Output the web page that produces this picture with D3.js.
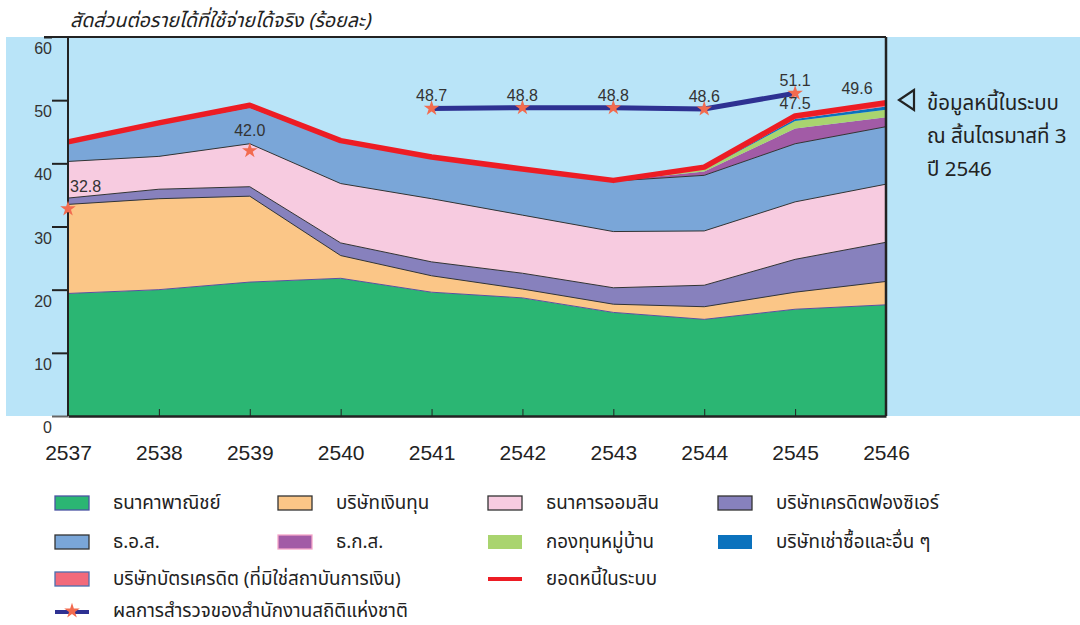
<!DOCTYPE html>
<html><head><meta charset="utf-8">
<script src="https://cdn.jsdelivr.net/npm/d3@7"></script>
<style>
html,body{margin:0;padding:0;background:#fff;}
svg{display:block;font-family:"Noto Sans Thai","Liberation Sans",Arial,"Noto Sans",sans-serif;}
</style></head>
<body>
<svg id="c" width="1080" height="625"></svg>
<script>
// ---------------- data ----------------
const years = ["2537","2538","2539","2540","2541","2542","2543","2544","2545","2546"];
const commercialBanks = [19.4, 20.0, 21.2, 21.8, 19.6, 18.7, 16.4, 15.3, 16.9, 17.6];
const financeCos      = [14.1, 14.4, 13.6, 3.6, 2.6, 1.4, 1.3, 2.0, 2.7, 3.7];
const creditFoncier   = [1.0, 1.5, 1.5, 2.0, 2.2, 2.5, 2.6, 3.4, 5.2, 6.2];
const gsb             = [5.8, 5.2, 6.8, 9.4, 10.0, 9.2, 8.9, 8.6, 9.1, 9.2];
const ghb             = [2.9, 5.1, 5.8, 6.6, 6.4, 7.1, 8.0, 8.8, 9.2, 9.1];
const baac            = [0, 0, 0, 0, 0, 0, 0, 0.6, 2.4, 1.5];
const villageFund     = [0, 0, 0, 0, 0, 0, 0, 0.3, 1.2, 1.2];
const hirePurchase    = [0, 0, 0, 0, 0, 0, 0, 0, 0.3, 0.5];
const creditCard      = [0.2, 0.2, 0.3, 0.2, 0.2, 0.2, 0.1, 0.4, 0.5, 0.6];
const surveyYears     = ["2541","2542","2543","2544","2545"];
const surveyValues    = [48.7, 48.8, 48.8, 48.6, 51.1];
const surveySingleYears  = ["2537","2539"];
const surveySingleValues = [32.8, 42.0];
const yTicks = [0, 10, 20, 30, 40, 50, 60];

const seriesNames = ["ธนาคาพาณิชย์","บริษัทเงินทุน","บริษัทเครดิตฟองซิเอร์","ธนาคารออมสิน","ธ.อ.ส.","ธ.ก.ส.","กองทุนหมู่บ้าน","บริษัทเช่าซื้อและอื่น ๆ","บริษัทบัตรเครดิต (ที่มิใช่สถาบันการเงิน)"];
const seriesData = [commercialBanks, financeCos, creditFoncier, gsb, ghb, baac, villageFund, hirePurchase, creditCard];
const totalName = "ยอดหนี้ในระบบ";
const surveyName = "ผลการสำรวจของสำนักงานสถิติแห่งชาติ";
const title = "สัดส่วนต่อรายได้ที่ใช้จ่ายได้จริง (ร้อยละ)";
const noteLines = ["ข้อมูลหนี้ในระบบ","ณ สิ้นไตรมาสที่ 3","ปี 2546"];

// ---------------- styles ----------------
const fills = ["#2bb673","#fbc687","#8781bd","#f7cbe0","#7aa6d8","#a25ba6","#a9d46f","#0b72bd","#f26a7b"];
const strokes = ["#5b4fa0","#333","#333","#333","#333","#333","none","none","none"];
const legendBorder = ["#4b54a3","#333","#333","#333","#333","#f4a6c8","none","none","#4b6fb0"];

const svg = d3.select("#c");
const X0 = 68, X1 = 886, Y0 = 416, Y1 = 37;
const x = d3.scalePoint().domain(years).range([X0, X1]);
const y = d3.scaleLinear().domain([0, 60]).range([Y0, Y1]);

// background band
svg.append("rect").attr("x", 6).attr("y", Y1).attr("width", 1074).attr("height", Y0 - Y1).attr("fill", "#b9e4f8");

// stacked data
const rows = years.map((yr, i) => {
  const r = {year: yr};
  seriesNames.forEach((n, k) => r[n] = seriesData[k][i]);
  return r;
});
const stack = d3.stack().keys(seriesNames)(rows);
const area = d3.area().x(d => x(d.data.year)).y0(d => y(d[0])).y1(d => y(d[1]));
const topLine = d3.line().x(d => x(d.data.year)).y(d => y(d[1]));

stack.forEach((s, k) => {
  svg.append("path").attr("d", area(s)).attr("fill", fills[k]).attr("stroke", "none");
});
stack.forEach((s, k) => {
  if (strokes[k] !== "none" && k < 5)
    svg.append("path").attr("d", topLine(s)).attr("fill", "none").attr("stroke", strokes[k]).attr("stroke-width", 1);
});

// total line
const totals = years.map((yr, i) => ({year: yr, v: d3.sum(seriesData, s => s[i])}));
const line = d3.line().x(d => x(d.year)).y(d => y(d.v));
svg.append("path").datum(totals).attr("d", line).attr("fill", "none")
  .attr("stroke", "#ed1c24").attr("stroke-width", 5.5).attr("stroke-linejoin", "round");

// axes
const yAxis = d3.axisLeft(y).tickValues(yTicks).tickSize(16).tickPadding(0).tickFormat(d3.format("d"));
const gy = svg.append("g").attr("transform", `translate(${X0},0)`).call(yAxis);
gy.select(".domain").remove();
gy.selectAll(".tick line").attr("stroke", d => d === 0 ? "#666" : "#222").attr("stroke-width", 2)
  .attr("x1", d => d === 60 ? -24 : 0);
gy.selectAll(".tick text").attr("y", 11).attr("dy", "0.35em").attr("font-size", 16).attr("fill", "#333")
  .attr("font-family", "'Liberation Sans', Arial, sans-serif");

const xAxis = d3.axisBottom(x).tickSizeInner(-7).tickSizeOuter(0).tickPadding(29);
const gx = svg.append("g").attr("transform", `translate(0,${Y0})`).call(xAxis);
gx.select(".domain").attr("stroke", "#222").attr("stroke-width", 2.5);
gx.selectAll(".tick line").attr("stroke", "#222").attr("stroke-width", 1);
gx.selectAll(".tick text").attr("font-size", 21).attr("fill", "#222")
  .attr("font-family", "'Liberation Sans', Arial, sans-serif");

// frame
svg.append("line").attr("x1", X0).attr("x2", X0).attr("y1", Y1).attr("y2", Y0).attr("stroke", "#222").attr("stroke-width", 2);
svg.append("line").attr("x1", 44).attr("x2", X1).attr("y1", Y1).attr("y2", Y1).attr("stroke", "#222").attr("stroke-width", 2);
svg.append("line").attr("x1", X1).attr("x2", X1).attr("y1", Y1).attr("y2", Y0).attr("stroke", "#222").attr("stroke-width", 2.5);

// survey line + stars
const sv = surveyYears.map((yr, i) => ({year: yr, v: surveyValues[i]}));
svg.append("path").datum(sv).attr("d", line).attr("fill", "none").attr("stroke", "#2e3192").attr("stroke-width", 5);
const star = d3.symbol().type(d3.symbolStar).size(75);
const allStars = sv.concat(surveySingleYears.map((yr, i) => ({year: yr, v: surveySingleValues[i]})));
svg.selectAll(".star").data(allStars).join("path")
  .attr("d", star).attr("fill", "#f26b4f")
  .attr("transform", d => `translate(${x(d.year)},${y(d.v)})`);

// value labels
const labFont = "'Liberation Sans', Arial, sans-serif";
function lab(tx, ty, t, anchor) {
  svg.append("text").attr("x", tx).attr("y", ty).attr("text-anchor", anchor || "middle")
    .attr("font-size", 16).attr("fill", "#333").attr("font-family", labFont).text(t);
}
sv.forEach(d => lab(x(d.year), y(d.v) - 7, d3.format(".1f")(d.v)));
lab(x("2537") + 2, y(surveySingleValues[0]) - 17, d3.format(".1f")(surveySingleValues[0]), "start");
lab(x("2539"), y(surveySingleValues[1]) - 15, d3.format(".1f")(surveySingleValues[1]));
lab(x("2545"), y(totals[8].v) - 7, d3.format(".1f")(totals[8].v));
lab(x("2546") - 29, y(totals[9].v) - 9, d3.format(".1f")(totals[9].v));

// title
svg.append("text").attr("x", 70).attr("y", 27).attr("font-size", 19.6).attr("font-style", "italic")
  .attr("fill", "#222").text(title);

// note on right
svg.append("path").attr("d", "M914,90 L899,100 L914,110 Z").attr("fill", "none").attr("stroke", "#222").attr("stroke-width", 2.2);
noteLines.forEach((t, i) => {
  svg.append("text").attr("x", 927).attr("y", 110 + i * 33).attr("font-size", 20.5).attr("fill", "#222").text(t);
});

// legend
const legendItems = [
  {type: "rect", k: 0, col: 0, row: 0},
  {type: "rect", k: 1, col: 1, row: 0},
  {type: "rect", k: 3, col: 2, row: 0},
  {type: "rect", k: 2, col: 3, row: 0},
  {type: "rect", k: 4, col: 0, row: 1},
  {type: "rect", k: 5, col: 1, row: 1},
  {type: "rect", k: 6, col: 2, row: 1},
  {type: "rect", k: 7, col: 3, row: 1},
  {type: "rect", k: 8, col: 0, row: 2},
  {type: "total", col: 2, row: 2},
  {type: "survey", col: 0, row: 3}
];
const colX = [55, 278, 488, 718];
const rowY = [503, 542, 579, 611];
legendItems.forEach(it => {
  const sx = colX[it.col], cy = rowY[it.row];
  let name;
  if (it.type === "rect") {
    name = seriesNames[it.k];
    svg.append("rect").attr("x", sx).attr("y", cy - 7).attr("width", 34).attr("height", 14)
      .attr("fill", fills[it.k]).attr("stroke", legendBorder[it.k]).attr("stroke-width", 1.3);
  } else if (it.type === "total") {
    name = totalName;
    svg.append("line").attr("x1", sx).attr("x2", sx + 34).attr("y1", cy).attr("y2", cy).attr("stroke", "#ed1c24").attr("stroke-width", 4);
  } else {
    name = surveyName;
    svg.append("line").attr("x1", sx).attr("x2", sx + 34).attr("y1", cy + 1).attr("y2", cy + 1).attr("stroke", "#2e3192").attr("stroke-width", 4);
    svg.append("path").attr("d", star).attr("fill", "#f26b4f").attr("transform", `translate(${sx + 17},${cy})`);
  }
  svg.append("text").attr("x", sx + 58).attr("y", cy + 6).attr("font-size", 18.8).attr("fill", "#222").text(name);
});
</script>
</body></html>
